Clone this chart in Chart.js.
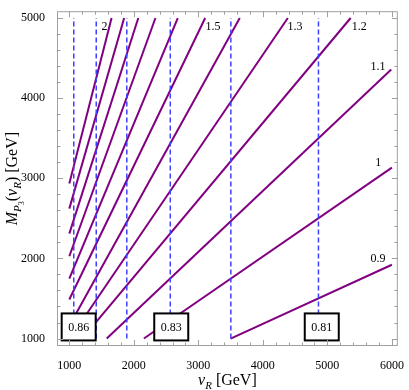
<!DOCTYPE html>
<html>
<head>
<meta charset="utf-8">
<script src="https://cdn.jsdelivr.net/npm/chart.js@4.4.1/dist/chart.umd.min.js"></script>
<style>
  html, body { margin: 0; padding: 0; background: #fff; }
  #wrap { width: 409px; height: 390px; }
</style>
</head>
<body>
<div id="wrap"><canvas id="ratioChart"></canvas></div>
<script>
// contour lines, one per ratio (start / end points)
const ratios  = [2, 1.9, 1.8, 1.7, 1.6, 1.5, 1.4, 1.3, 1.2, 1.1, 1, 0.9];
const startVR = [1000, 1000, 1000, 1000, 1000, 1000, 1000, 1010, 1200, 1580, 2156, 3500];
const startM  = [2936, 2621, 2309, 2027, 1748, 1488, 1160, 1000, 1000, 1000, 1000, 1000];
const endVR   = [1655, 1850, 2069, 2335, 2681, 3106, 3642, 4387, 5361, 5990, 6000, 6000];
const endM    = [5000, 5000, 5000, 5000, 5000, 5000, 5000, 5000, 5000, 4358, 3133, 1921];

// dashed vertical cuts
const cutVR = [1069, 1417, 1891, 2565, 3504, 4862];
const cutM  = [1000, 5000];

// boxed values along the bottom
const boxText = ["0.86", "0.83", "0.81"];
const boxVR   = [1145, 2580, 4913];
const boxM    = 1145;

// ratio labels near line ends
const labelText = ["2", "1.5", "1.3", "1.2", "1.1", "1", "0.9"];
const labelVR   = [1544, 3228, 4499, 5495, 5786, 5790, 5786];
const labelM    = [4891, 4891, 4891, 4891, 4394, 3194, 1998];

const xTicks = [1000, 2000, 3000, 4000, 5000, 6000];
const yTicks = [1000, 2000, 3000, 4000, 5000];

const serif = "'Liberation Serif', 'DejaVu Serif', serif";
const purple = "#800080";
const blue = "#4040ff";

const datasets = [];
cutVR.forEach(v => {
  datasets.push({
    data: [{ x: v, y: cutM[0] }, { x: v, y: cutM[1] }],
    borderColor: blue,
    borderWidth: 1.5,
    borderDash: [5, 3],
    showLine: true,
    pointRadius: 0
  });
});
ratios.forEach((r, i) => {
  datasets.push({
    label: String(r),
    data: [{ x: startVR[i], y: startM[i] }, { x: endVR[i], y: endM[i] }],
    borderColor: purple,
    borderWidth: 2,
    showLine: true,
    pointRadius: 0
  });
});

function drawRich(ctx, pieces, x, y) {
  let w = 0;
  pieces.forEach(p => {
    ctx.font = p.font;
    w += ctx.measureText(p.t).width;
  });
  let cx = x - w / 2;
  pieces.forEach(p => {
    ctx.font = p.font;
    ctx.fillText(p.t, cx, y + (p.dy || 0));
    cx += ctx.measureText(p.t).width;
  });
}

const decorPlugin = {
  id: "decor",
  afterDatasetsDraw(chart) {
    const { ctx, chartArea: a, scales: { x, y } } = chart;
    ctx.save();

    // ratio labels
    ctx.fillStyle = "#000";
    ctx.font = "12px " + serif;
    ctx.textAlign = "center";
    ctx.textBaseline = "middle";
    labelText.forEach((t, i) => {
      ctx.fillText(t, x.getPixelForValue(labelVR[i]), y.getPixelForValue(labelM[i]));
    });

    // boxed values
    boxText.forEach((t, i) => {
      const cx = x.getPixelForValue(boxVR[i]);
      const cy = y.getPixelForValue(boxM);
      ctx.fillStyle = "#fff";
      ctx.fillRect(cx - 17, cy - 13.5, 34, 27);
      ctx.strokeStyle = "#000";
      ctx.lineWidth = 2;
      ctx.strokeRect(cx - 17, cy - 13.5, 34, 27);
      ctx.fillStyle = "#000";
      ctx.fillText(t, cx, cy + 1);
    });

    // frame with inward ticks
    ctx.strokeStyle = "#a0a0a0";
    ctx.lineWidth = 1;
    ctx.strokeRect(a.left + 0.5, a.top + 0.5, a.right - a.left - 1, a.bottom - a.top - 1);
    ctx.beginPath();
    for (let v = 1000; v <= 6000; v += 200) {
      const px = Math.round(x.getPixelForValue(v)) + 0.5;
      const len = v % 1000 === 0 ? 6 : 3.5;
      ctx.moveTo(px, a.bottom); ctx.lineTo(px, a.bottom - len);
      ctx.moveTo(px, a.top); ctx.lineTo(px, a.top + len);
    }
    for (let v = 1000; v <= 5000; v += 200) {
      const py = Math.round(y.getPixelForValue(v)) + 0.5;
      const len = v % 1000 === 0 ? 6 : 3.5;
      ctx.moveTo(a.left, py); ctx.lineTo(a.left + len, py);
      ctx.moveTo(a.right, py); ctx.lineTo(a.right - len, py);
    }
    ctx.stroke();

    // axis titles
    ctx.fillStyle = "#000";
    ctx.textAlign = "left";
    ctx.textBaseline = "alphabetic";
    const big = "16px " + serif, bigI = "italic 16px " + serif;
    const sub = "italic 11px " + serif, sub2 = "8px " + serif;
    drawRich(ctx, [
      { t: "v", font: bigI },
      { t: "R", font: sub, dy: 4 },
      { t: " [GeV]", font: big }
    ], (a.left + a.right) / 2, 385);

    ctx.translate(17, (a.top + a.bottom) / 2);
    ctx.rotate(-Math.PI / 2);
    drawRich(ctx, [
      { t: "M", font: bigI },
      { t: "P", font: sub, dy: 4 },
      { t: "3", font: sub2, dy: 7 },
      { t: "(", font: big },
      { t: "v", font: bigI },
      { t: "R", font: sub, dy: 4 },
      { t: ")", font: big },
      { t: " [GeV]", font: big }
    ], 0, 0);
    ctx.restore();
  }
};

new Chart(document.getElementById("ratioChart"), {
  type: "scatter",
  data: { datasets },
  options: {
    responsive: true,
    maintainAspectRatio: false,
    animation: false,
    layout: { padding: { top: 1, right: 7, left: 0, bottom: 0 } },
    plugins: {
      legend: { display: false },
      tooltip: { enabled: false }
    },
    scales: {
      x: {
        type: "linear",
        min: 809,
        max: 6092,
        grid: { display: false },
        border: { display: false },
        afterBuildTicks: s => { s.ticks = xTicks.map(v => ({ value: v })); },
        afterFit: s => { s.height = 44; },
        ticks: { font: { family: serif, size: 12 }, color: "#000", padding: 5, maxRotation: 0, callback: v => String(v) }
      },
      y: {
        type: "linear",
        min: 907,
        max: 5085,
        grid: { display: false },
        border: { display: false },
        afterBuildTicks: s => { s.ticks = yTicks.map(v => ({ value: v })); },
        afterFit: s => { s.width = 57; },
        ticks: { font: { family: serif, size: 12 }, color: "#000", padding: 4, callback: v => String(v) }
      }
    }
  },
  plugins: [decorPlugin]
});
</script>
</body>
</html>
